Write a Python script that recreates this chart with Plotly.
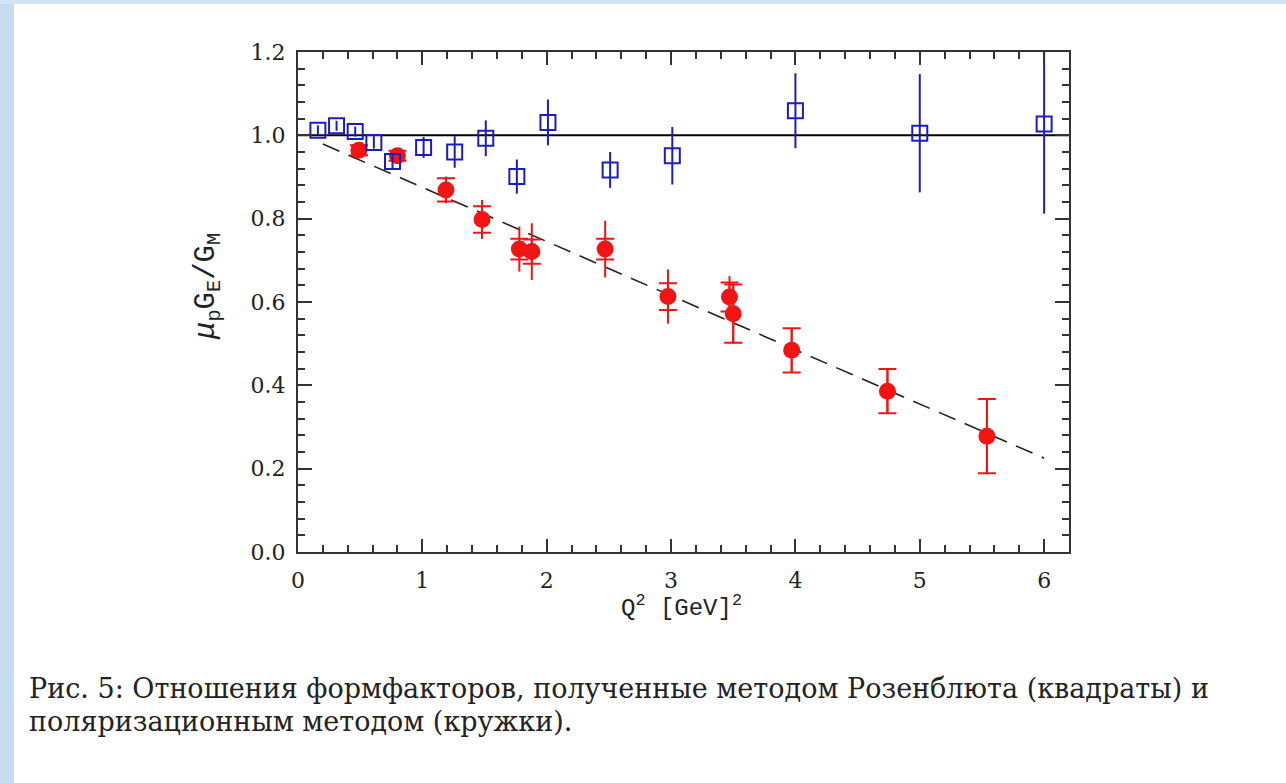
import plotly.graph_objects as go

# ---------------- data ----------------
# Rosenbluth separation (open blue squares)
ros_q2 = [0.16, 0.31, 0.46, 0.61, 0.76, 1.01, 1.26, 1.51, 1.76, 2.01, 2.51, 3.01, 4.00, 5.00, 6.00]
ros_r = [1.012, 1.023, 1.009, 0.983, 0.937, 0.971, 0.960, 0.993, 0.901, 1.031, 0.917, 0.951, 1.059, 1.005, 1.027]
ros_err = [0.012, 0.012, 0.012, 0.015, 0.018, 0.025, 0.038, 0.043, 0.041, 0.055, 0.043, 0.069, 0.090, 0.142, 0.215]

# Polarization transfer (filled red circles)
pol_q2 = [0.49, 0.80, 1.19, 1.48, 1.78, 1.88, 2.47, 2.975, 3.47, 3.50, 3.97, 4.74, 5.54]
pol_r = [0.964, 0.951, 0.869, 0.798, 0.727, 0.721, 0.727, 0.613, 0.612, 0.572, 0.484, 0.386, 0.278]
pol_stat = [0.012, 0.012, 0.028, 0.032, 0.025, 0.029, 0.025, 0.032, 0.035, 0.070, 0.053, 0.053, 0.089]
pol_tot = [0.015, 0.015, 0.032, 0.047, 0.054, 0.068, 0.068, 0.065, 0.050, 0.072, 0.053, 0.053, 0.089]

# Linear fit  mu GE/GM = 1 - 0.13 (Q^2 - 0.04)
fit_q2 = [0.20, 6.00]
fit_r = [1 - 0.13 * (q - 0.04) for q in fit_q2]

unity_q2 = [0.0, 6.2]
unity_r = [1.0, 1.0]

x_ticks = [0, 1, 2, 3, 4, 5, 6]
y_ticks = [0.0, 0.2, 0.4, 0.6, 0.8, 1.0, 1.2]

caption_1 = "Рис. 5: Отношения формфакторов, полученные методом Розенблюта (квадраты) и"
caption_2 = "поляризационным методом (кружки)."

# ---------------- layout geometry ----------------
W, H = 1286, 783
L, R, T, B = 298, 1069, 52, 552  # plot frame in pixels
PW, PH = R - L, B - T


def px(xp):
    return (xp - L) / PW


def py(yp):
    return (B - yp) / PH


RED = "#f01414"
BLUE = "#1c1cc0"

fig = go.Figure()

fig.add_trace(go.Scatter(x=unity_q2, y=unity_r, mode="lines",
                         line=dict(color="black", width=2), hoverinfo="skip"))
fig.add_trace(go.Scatter(x=fit_q2, y=fit_r, mode="lines",
                         line=dict(color="#222222", width=1.6, dash="18px,10px"), hoverinfo="skip"))

# red: total error (no caps)
fig.add_trace(go.Scatter(x=pol_q2, y=pol_r, mode="markers",
                         marker=dict(size=1, color="rgba(0,0,0,0)"),
                         error_y=dict(type="data", array=pol_tot, color=RED, thickness=2, width=0)))
# red: statistical error with caps + markers
fig.add_trace(go.Scatter(x=pol_q2, y=pol_r, mode="markers",
                         marker=dict(size=17, color=RED, symbol="circle"),
                         error_y=dict(type="data", array=pol_stat, color=RED, thickness=2, width=9)))

# blue squares
fig.add_trace(go.Scatter(x=ros_q2, y=ros_r, mode="markers",
                         marker=dict(size=15, color=BLUE, symbol="square-open",
                                     line=dict(color=BLUE, width=2)),
                         error_y=dict(type="data", array=ros_err, color=BLUE, thickness=2, width=0)))

axis_common = dict(
    showgrid=False, zeroline=False, showline=True, linecolor="#333333", linewidth=2,
    mirror="allticks", ticks="inside", tickcolor="#333333", tickwidth=1.5,
    tickfont=dict(family="DejaVu Serif", size=22, color="#222222"),
)

fig.update_xaxes(range=[0, 6.2], tickvals=x_ticks, ticklen=13, ticklabelstandoff=8,
                 minor=dict(dtick=0.2, tick0=0, ticks="inside", ticklen=7, tickcolor="#333333", tickwidth=1.5),
                 **axis_common)
fig.update_yaxes(range=[0, 1.2], tickvals=y_ticks, tickformat=".1f", ticklen=14, ticklabelstandoff=6,
                 minor=dict(dtick=0.04, tick0=0, ticks="inside", ticklen=7, tickcolor="#333333", tickwidth=1.5),
                 **axis_common)

annotations = [
    dict(x=px(681), y=py(606), xref="paper", yref="paper", showarrow=False,
         text="Q<sup>2</sup> [GeV]<sup>2</sup>", font=dict(family="Liberation Mono", size=24, color="#222222"),
         xanchor="center", yanchor="middle"),
    dict(x=px(208), y=py(287), xref="paper", yref="paper", showarrow=False, textangle=-90,
         text="<i>μ</i><sub>p</sub>G<sub>E</sub>/G<sub>M</sub>",
         font=dict(family="Liberation Mono", size=29, color="#222222"),
         xanchor="center", yanchor="middle"),
    dict(x=px(27), y=py(688), xref="paper", yref="paper", showarrow=False,
         text=caption_1, font=dict(family="DejaVu Serif", size=27, color="#222222"),
         xanchor="left", yanchor="middle"),
    dict(x=px(27), y=py(721), xref="paper", yref="paper", showarrow=False,
         text=caption_2, font=dict(family="DejaVu Serif", size=27, color="#222222"),
         xanchor="left", yanchor="middle"),
]

shapes = [
    dict(type="rect", xref="paper", yref="paper", x0=px(0), x1=px(14), y0=py(H), y1=py(0),
         fillcolor="#c6dcf1", line=dict(width=0), layer="below"),
    dict(type="rect", xref="paper", yref="paper", x0=px(0), x1=px(W), y0=py(4), y1=py(0),
         fillcolor="#d3e5f5", line=dict(width=0), layer="below"),
]

fig.update_layout(
    width=W, height=H, showlegend=False,
    margin=dict(l=L, r=W - R, t=T, b=H - B, pad=0),
    paper_bgcolor="white", plot_bgcolor="white",
    annotations=annotations, shapes=shapes,
)

fig.write_html("out.html")
